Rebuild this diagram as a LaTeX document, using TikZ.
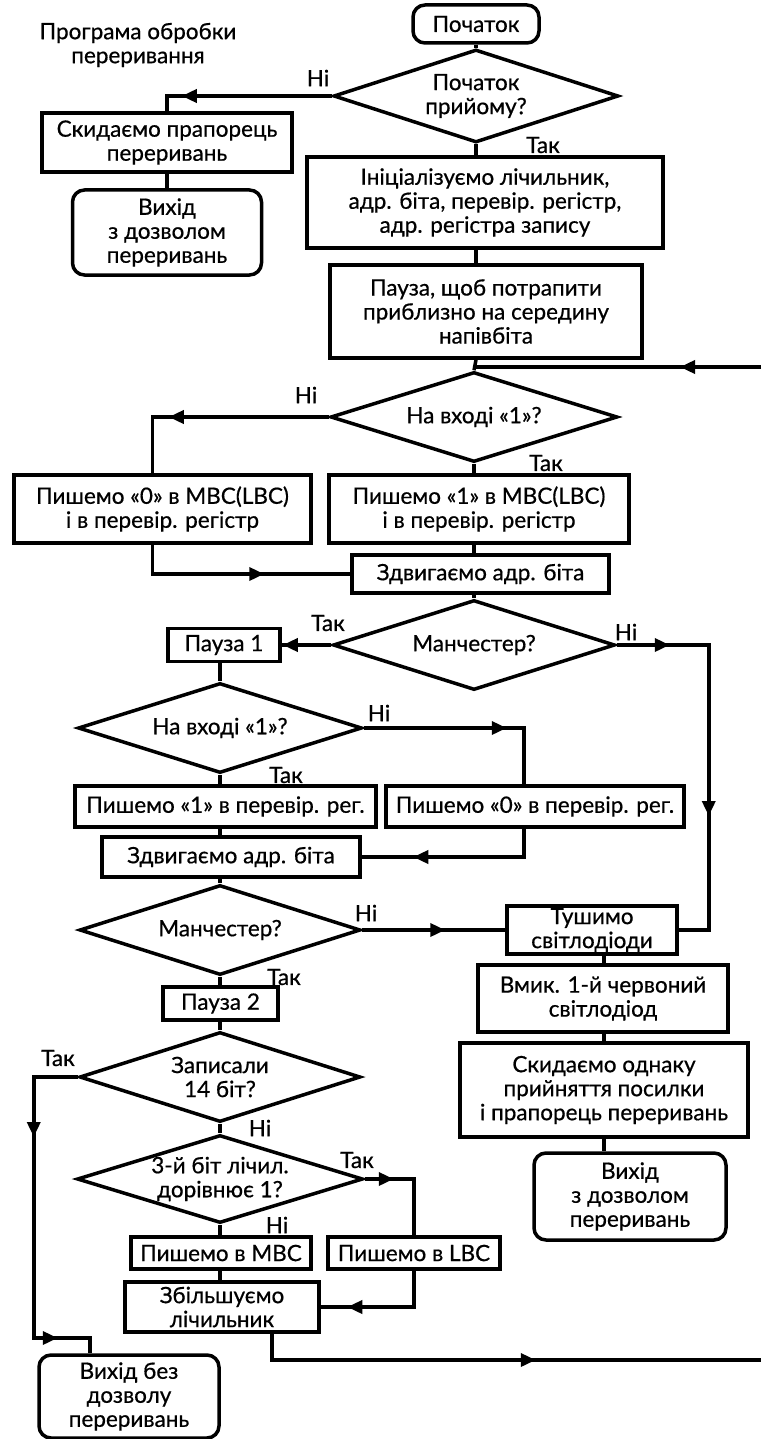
\documentclass[tikz,border=0pt]{standalone}
\usepackage{fontspec}
\setmainfont{Lato}[FakeBold=0.6]
\usetikzlibrary{shapes.geometric,arrows.meta,decorations.markings}

\tikzset{
  every node/.style={font=\fontsize{22.5}{24}\selectfont},
  line/.style={line width=3.5pt},
  box/.style={draw, line width=3.5pt, inner sep=0pt, align=center},
  term/.style={box, rounded corners=12pt},
  dia/.style={draw, diamond, line width=3.5pt, inner sep=0pt},
  tag/.style={inner sep=0pt, align=center},
  tip/.tip={Triangle[length=15pt,width=13pt]},
  arrat/.style={postaction={decorate}, decoration={markings,
      mark=at position #1 with {\arrow{tip}}}},
  arrtwo/.style 2 args={postaction={decorate}, decoration={markings,
      mark=at position #1 with {\arrow{tip}},
      mark=at position #2 with {\arrow{tip}}}},
}

\begin{document}
\begin{tikzpicture}[x=1pt,y=-1pt]
\useasboundingbox[fill=white] (0,0) rectangle (761,1439);

% heading
\node[tag] (title) at (138,45) {Програма обробки\\переривання};

% ---------- entry and initialisation ----------
\node[term, minimum width=126pt, minimum height=38pt] (start) at (476,24) {Початок};
\node[dia, minimum width=285pt, minimum height=93pt] (d1) at (476,96) {};
\node[tag] (d1t) at (d1) {Початок\\прийому?};
\node[box, minimum width=250pt, minimum height=59pt] (b1) at (167,142.5) {Скидаємо прапорець\\переривань};
\node[term, minimum width=189pt, minimum height=85pt] (t1) at (167,232.5) {Вихід\\з дозволом\\переривань};
\node[box, minimum width=356pt, minimum height=91pt] (init) at (485,202.5) {Ініціалізуємо лічильник,\\адр. біта, перевір. регістр,\\адр. регістра запису};
\node[box, minimum width=312pt, minimum height=93pt] (pause) at (486,311.5) {Пауза, щоб потрапити\\приблизно на середину\\напівбіта};

% ---------- first half-bit ----------
\node[dia, minimum width=287pt, minimum height=90pt] (d2) at (474,417) {};
\node[tag] (d2t) at (d2) {На вході «1»?};
\node[box, minimum width=297pt, minimum height=68pt] (w0) at (162.5,509) {Пишемо «0» в МВС(LBC)\\і в перевір. регістр};
\node[box, minimum width=300pt, minimum height=68pt] (w1) at (479,509) {Пишемо «1» в МВС(LBC)\\і в перевір. регістр};
\node[box, minimum width=257pt, minimum height=38pt] (sh1) at (480.5,574) {Здвигаємо адр. біта};
\node[dia, minimum width=282pt, minimum height=90pt] (d3) at (474,645) {};
\node[tag] (d3t) at (d3) {Манчестер?};

% ---------- second half-bit ----------
\node[box, minimum width=112pt, minimum height=33pt] (p1) at (224,645) {Пауза 1};
\node[dia, minimum width=284pt, minimum height=90pt] (d4) at (220,728) {};
\node[tag] (d4t) at (d4) {На вході «1»?};
\node[box, minimum width=301pt, minimum height=41pt] (r1) at (225.5,806.5) {Пишемо «1» в перевір. рег.};
\node[box, minimum width=298pt, minimum height=41pt] (r0) at (535,806.5) {Пишемо «0» в перевір. рег.};
\node[box, minimum width=258pt, minimum height=40pt] (sh2) at (231,857) {Здвигаємо адр. біта};
\node[dia, minimum width=281pt, minimum height=90pt] (d5) at (220,930) {};
\node[tag] (d5t) at (d5) {Манчестер?};
\node[box, minimum width=115pt, minimum height=33pt] (p2) at (220.5,1003.5) {Пауза 2};
\node[dia, minimum width=281pt, minimum height=90pt] (d6) at (220,1077) {};
\node[tag] (d6t) at (d6) {Записали\\14 біт?};
\node[dia, minimum width=286pt, minimum height=88pt] (d7) at (220,1179) {};
\node[tag] (d7t) at (d7) {3-й біт лічил.\\дорівнює 1?};
\node[box, minimum width=180pt, minimum height=32pt] (mbc) at (221,1253) {Пишемо в МВС};
\node[box, minimum width=172pt, minimum height=32pt] (lbc) at (414,1253) {Пишемо в LBC};
\node[box, minimum width=194pt, minimum height=50pt] (inc) at (222,1307) {Збільшуємо\\лічильник};
\node[term, minimum width=180pt, minimum height=83pt] (t3) at (129,1396.5) {Вихід без\\дозволу\\переривань};

% ---------- error branch ----------
\node[box, minimum width=170pt, minimum height=48pt] (tu) at (592,930) {Тушимо\\світлодіоди};
\node[box, minimum width=250pt, minimum height=67pt] (vm) at (603,998.5) {Вмик. 1-й червоний\\світлодіод};
\node[box, minimum width=288pt, minimum height=94pt] (sk) at (604,1090) {Скидаємо однаку\\прийняття посилки\\і прапорець переривань};
\node[term, minimum width=192pt, minimum height=87pt] (t2) at (630,1196.5) {Вихід\\з дозволом\\переривань};

% loop ends at the right margin
\coordinate (rin) at (761,367);
\coordinate (rout) at (761,1360);

% ---------- connectors ----------
\draw[line] (start) -- (d1);
\draw[line, arrat=150pt] (d1.west) -| (b1.north);
\draw[line] (b1) -- (t1);
\draw[line] (d1.south) -- (d1.south |- init.north);
\draw[line] (d1.south |- init.south) -- (d1.south |- pause.north);
\draw[line] (d1.south |- pause.south) -- (d2.north);
\draw[line, arrat=81pt] (rin) -- (rin -| d2.north);

\draw[line, arrat=160pt] (d2.west) -| ([xshift=-10pt]w0.north);
\draw[line] (d2.south) -- (d2.south |- w1.north);
\draw[line, arrat=141pt] ([xshift=-10pt]w0.south) |- (sh1.west);
\draw[line] (d2.south |- w1.south) -- (d2.south |- sh1.north);
\draw[line] (d2.south |- sh1.south) -- (d3.north);

\draw[line, arrat=-1pt] (d3.west) -- (p1.east);
\draw[line, arrtwo={53pt}{263pt}] (d3.east) -- ++(92,0) |- (tu.east);
\draw[line] (d4.north |- p1.south) -- (d4.north);
\draw[line, arrat=143pt] (d4.east) -| ([xshift=-11pt]r0.north);
\draw[line] (d4.south) -- (d4.south |- r1.north);
\draw[line] (d4.south |- r1.south) -- (d4.south |- sh2.north);
\draw[line, arrat=139pt] ([xshift=-11pt]r0.south) |- (sh2.east);
\draw[line] (d4.south |- sh2.south) -- (d5.north);

\draw[line, arrat=83pt] (d5.east) -- (tu.west);
\draw[line] (d5.south) -- (d5.south |- p2.north);
\draw[line] (d5.south |- p2.south) -- (d6.north);
\draw[line] (tu.south -| sk.south) -- (vm.north -| sk.south);
\draw[line] (vm.south -| sk.south) -- (sk.south |- sk.north);
\draw[line] (sk.south) -- (sk.south |- t2.north);

\draw[line, arrtwo={104pt}{329pt}] (d6.west) -- ++(-44,0) -- ++(0,261) -| ([xshift=-39pt]t3.north);
\draw[line] (d6.south) -- (d7.north);
\draw[line, arrat=29pt] (d7.east) -| (lbc.north);
\draw[line] (d7.south) -- (d7.south |- mbc.north);
\draw[line] (d7.south |- mbc.south) -- (d7.south |- inc.north);
\draw[line, arrat=103pt] (lbc.south) |- (inc.east);
\draw[line, arrat=290pt] ([xshift=50pt]inc.south) |- (rout);

% ---------- branch labels ----------
\node[tag] at (318,78) {Ні};
\node[tag] at (543,145) {Так};
\node[tag] at (306,395) {Ні};
\node[tag] at (546,463) {Так};
\node[tag] at (328,623) {Так};
\node[tag] at (626,632) {Ні};
\node[tag] at (379,713) {Ні};
\node[tag] at (286,775) {Так};
\node[tag] at (366,913) {Ні};
\node[tag] at (284,977) {Так};
\node[tag] at (58,1058) {Так};
\node[tag] at (260,1128) {Ні};
\node[tag] at (357,1160) {Так};
\node[tag] at (277,1225) {Ні};
\end{tikzpicture}
\end{document}
